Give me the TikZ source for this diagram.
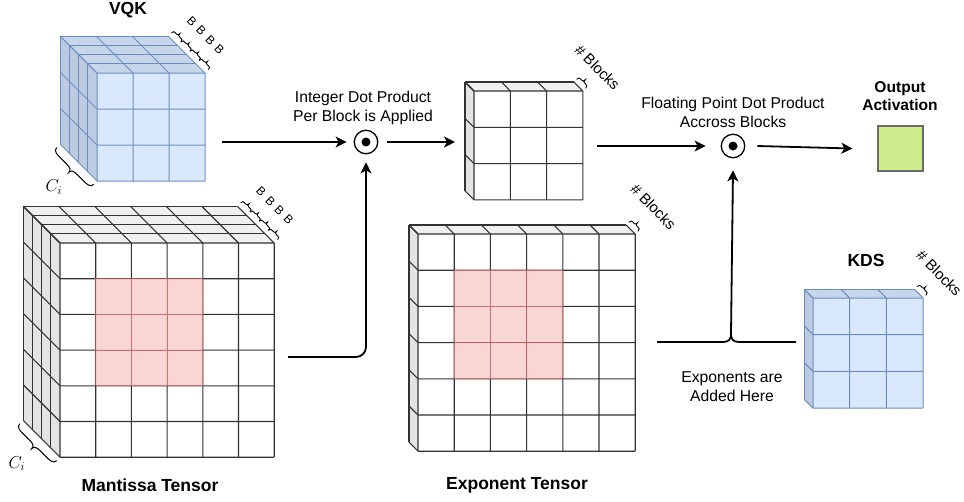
\documentclass[tikz,border=0pt]{standalone}
\usepackage{fontspec}
\setmainfont{Liberation Sans}
\usetikzlibrary{arrows.meta,calc}
\definecolor{bluefront}{HTML}{DAE8FC}
\definecolor{bluetop}{HTML}{C8D6EB}
\definecolor{blueside}{HTML}{BCCBE1}
\definecolor{blueline}{HTML}{6C8EBF}
\definecolor{graytop}{HTML}{F0F0F0}
\definecolor{grayside}{HTML}{E4E4E4}
\definecolor{darkline}{HTML}{333333}
\definecolor{redfill}{HTML}{F8CECC}
\definecolor{redline}{HTML}{C05A5A}
\definecolor{greenfill}{HTML}{CDEB8B}
\definecolor{boxline}{HTML}{6B6B6B}
\tikzset{
  blueT/.style={frontface/.style={fill=bluefront}, topface/.style={fill=bluetop},
    leftface/.style={fill=blueside}, gridline/.style={draw=blueline, line width=1pt}},
  grayT/.style={frontface/.style={fill=white}, topface/.style={fill=graytop},
    leftface/.style={fill=grayside}, gridline/.style={draw=darkline, line width=1.1pt}},
  redcell/.style={fill=redfill, fill opacity=0.85, draw=redline, draw opacity=0.75, line width=1.1pt},
  arr/.style={line width=1.8pt, -{Stealth[length=11pt,width=11pt,inset=3pt]}},
  bbrace/.style={line width=0.9pt, line cap=round},
  cbrace/.style={line width=1pt, line cap=round},
  blabel/.style={font=\fontsize{12}{12}\selectfont, rotate=-45, inner sep=0},
  hblabel/.style={font=\fontsize{15}{15}\selectfont, rotate=-45, inner sep=0},
  clabel/.style={font=\fontsize{17}{17}\selectfont, inner sep=0},
  title/.style={font=\fontsize{17.5}{21}\selectfont\bfseries, inner sep=0},
  note/.style={font=\fontsize{15.7}{19}\selectfont, align=center, inner sep=0},
  dotop/.style={circle, draw, line width=1.3pt, minimum size=23.5pt, inner sep=0},
  dotin/.style={circle, fill, minimum size=9pt, inner sep=0},
}
\newcommand\tensorgrid[8]{%
  \pgfmathsetmacro\tX{#2}\pgfmathsetmacro\tY{#3}\pgfmathsetmacro\tC{#4}%
  \pgfmathtruncatemacro\tN{#5}\pgfmathtruncatemacro\tM{#6}\pgfmathtruncatemacro\tK{#7}%
  \pgfmathsetmacro\tDd{#8}%
  \pgfmathsetmacro\tW{\tN*\tC}\pgfmathsetmacro\tH{\tM*\tC}\pgfmathsetmacro\tD{\tK*\tDd}%
  \coordinate (#1-ftl) at (\tX,\tY);
  \coordinate (#1-ftr) at (\tX+\tW,\tY);
  \coordinate (#1-fbl) at (\tX,\tY+\tH);
  \coordinate (#1-fbr) at (\tX+\tW,\tY+\tH);
  \coordinate (#1-btr) at (\tX+\tW-\tD,\tY-\tD);
  \coordinate (#1-bbl) at (\tX-\tD,\tY+\tH-\tD);
  \fill[topface] (#1-ftl) -- (#1-ftr) -- (#1-btr) -- ++(-\tW,0) -- cycle;
  \fill[leftface] (#1-ftl) -- (#1-fbl) -- (#1-bbl) -- ++(0,-\tH) -- cycle;
  \fill[frontface] (#1-ftl) rectangle (#1-fbr);
  \foreach \j in {0,...,\tN}{\draw[gridline] (\tX+\j*\tC,\tY) -- ++(-\tD,-\tD) (\tX+\j*\tC,\tY) -- ++(0,\tH);}
  \foreach \i in {0,...,\tM}{\draw[gridline] (\tX,\tY+\i*\tC) -- ++(-\tD,-\tD) (\tX,\tY+\i*\tC) -- ++(\tW,0);}
  \foreach \s in {1,...,\tK}{\draw[gridline] (\tX-\s*\tDd,\tY-\s*\tDd) -- ++(\tW,0) (\tX-\s*\tDd,\tY-\s*\tDd) -- ++(0,\tH);}
}
\newcommand\redblock[3]{%
  \foreach \i in {1,2,3}{\foreach \j in {1,2,3}{%
    \filldraw[redcell] (#1+\j*#3,#2+\i*#3) rectangle ++(#3,#3);}}%
}
% explicit curly brace from A to B, bulging to the left of A->B (canvas): style, A, B, raise, amplitude
\newcommand\mybrace[5]{%
  \pgfmathsetmacro\hA{#4}\pgfmathsetmacro\hB{#4+#5*0.5}\pgfmathsetmacro\hC{#4+#5}\pgfmathsetmacro\hD{#4+#5*0.62}%
  \draw[#1] ($(#2)!\hA pt!90:(#3)$) .. controls ($(#2)!\hB pt!90:(#3)$) and ($(#2)!0.1!(#3)!\hB pt!90:(#3)$) .. ($(#2)!0.2!(#3)!\hB pt!90:(#3)$)
    -- ($(#2)!0.36!(#3)!\hB pt!90:(#3)$) .. controls ($(#2)!0.46!(#3)!\hB pt!90:(#3)$) and ($(#2)!0.5!(#3)!\hD pt!90:(#3)$) .. ($(#2)!0.5!(#3)!\hC pt!90:(#3)$)
    .. controls ($(#2)!0.5!(#3)!\hD pt!90:(#3)$) and ($(#2)!0.54!(#3)!\hB pt!90:(#3)$) .. ($(#2)!0.64!(#3)!\hB pt!90:(#3)$)
    -- ($(#2)!0.8!(#3)!\hB pt!90:(#3)$) .. controls ($(#2)!0.9!(#3)!\hB pt!90:(#3)$) and ($(#3)!\hB pt!-90:(#2)$) .. ($(#3)!\hA pt!-90:(#2)$);
}
% braces with B labels along the depth edge: name, slices
\newcommand\slicebraces[2]{%
  \foreach \s in {1,...,#2}{%
    \pgfmathsetmacro\fa{(\s-1)/#2}\pgfmathsetmacro\fb{\s/#2}\pgfmathsetmacro\fm{(\s-0.5)/#2}%
    \coordinate (#1-bs\s) at ($(#1-btr)!\fa!(#1-ftr)$);
    \coordinate (#1-be\s) at ($(#1-btr)!\fb!(#1-ftr)$);
    \coordinate (#1-bm\s) at ($(#1-btr)!\fm!(#1-ftr)$);
    \mybrace{bbrace}{#1-bs\s}{#1-be\s}{5}{5}
    \node[blabel] (#1-B\s) at ($(#1-bm\s)!27pt!90:(#1-ftr)$) {B};
  }%
}
\newcommand\blockbrace[2]{%
  \coordinate (#1-hm) at ($(#1-btr)!0.5!(#1-ftr)$);
  \mybrace{bbrace}{#1-btr}{#1-ftr}{4}{5.5}
  \node[hblabel] (#1-hb) at ($(#1-hm)!#2pt!90:(#1-ftr)$) {\# Blocks};
}
\newcommand\cibrace[1]{%
  \coordinate (#1-cm) at ($(#1-fbl)!0.5!(#1-bbl)$);
  \mybrace{cbrace}{#1-fbl}{#1-bbl}{5}{9}
  \node[clabel] (#1-ci) at ($(#1-cm)!35pt!-90:(#1-fbl)$) {$C_i$};
}
\begin{document}
\begin{tikzpicture}[x=1pt,y=-1pt]
\useasboundingbox (0,0) rectangle (964,501);
\fill[white] (0,0) rectangle (964,501);

% ---------- tensors ----------
\begin{scope}[blueT]
  \tensorgrid{vqk}{97}{73}{36}{3}{3}{4}{9.2}
  \tensorgrid{kds}{813}{298}{36.7}{3}{3}{1}{8.7}
\end{scope}
\begin{scope}[grayT]
  \tensorgrid{man}{60}{243}{35.7}{6}{6}{4}{9.2}
  \tensorgrid{mid}{474}{91}{36.3}{3}{3}{1}{9}
  \tensorgrid{exp}{418}{234}{36.2}{6}{6}{1}{9}
\end{scope}
\redblock{60}{243}{35.7}
\redblock{418}{234}{36.2}

% ---------- braces and small labels ----------
\slicebraces{vqk}{4}
\slicebraces{man}{4}
\blockbrace{mid}{27}
\blockbrace{exp}{32}
\blockbrace{kds}{29}
\cibrace{vqk}
\cibrace{man}

% ---------- titles ----------
\node[title] (tvqk) at (128,10) {VQK};
\node[title] (tman) at (150,485) {Mantissa Tensor};
\node[title] (texp) at (517,485) {Exponent Tensor};
\node[title] (tkds) at (866,260) {KDS};
\node[title, font=\fontsize{15.6}{18}\selectfont\bfseries, align=center] (tout) at (900,96) {Output\\Activation};
\node[note] (nint) at (363,107.5) {Integer Dot Product\\Per Block is Applied};
\node[note] (nfp) at (733,112) {Floating Point Dot Product\\Accross Blocks};
\node[note] (nexp) at (732,387) {Exponents are\\Added Here};

% ---------- operators and output ----------
\node[dotop] (c1) at (366,142) {};
\node[dotin] (c1dot) at (c1) {};
\node[dotop] (c2) at (733,146) {};
\node[dotin] (c2dot) at (c2) {};
\node[draw=boxline, fill=greenfill, line width=1.2pt, minimum size=45pt, inner sep=0] (outbox) at (900.5,148.5) {};

% ---------- connectors ----------
\coordinate (vqkout) at (222,142);
\coordinate (midin) at (455,142);
\coordinate (midout) at (597,146);
\coordinate (mout) at (288,357);
\draw[arr] (vqkout) -- ([xshift=-7pt]c1.west);
\draw[arr] ([xshift=9pt]c1.east) -- (midin);
\draw[arr, rounded corners=10pt] (mout) -| ([yshift=-8pt]c1.south);
\draw[arr] (midout) -- ([xshift=-15pt]c2.west);
\draw[arr] ([xshift=12pt]c2.east) -- ([xshift=-25pt]outbox.west);

% exponent brace
\coordinate (bl) at (657,342);
\coordinate (br) at (796,342);
\coordinate (btip) at (731,334);
\draw[line width=1.8pt] (bl) -- ($(btip)+(-8,8)$) .. controls ($(btip)+(-2,8)$) and ($(btip)+(0,5)$) .. (btip)
   .. controls ($(btip)+(0,5)$) and ($(btip)+(2,8)$) .. ($(btip)+(8,8)$) -- (br);
\draw[arr] (btip) -- ([yshift=-12pt]c2.south);
\end{tikzpicture}
\end{document}
